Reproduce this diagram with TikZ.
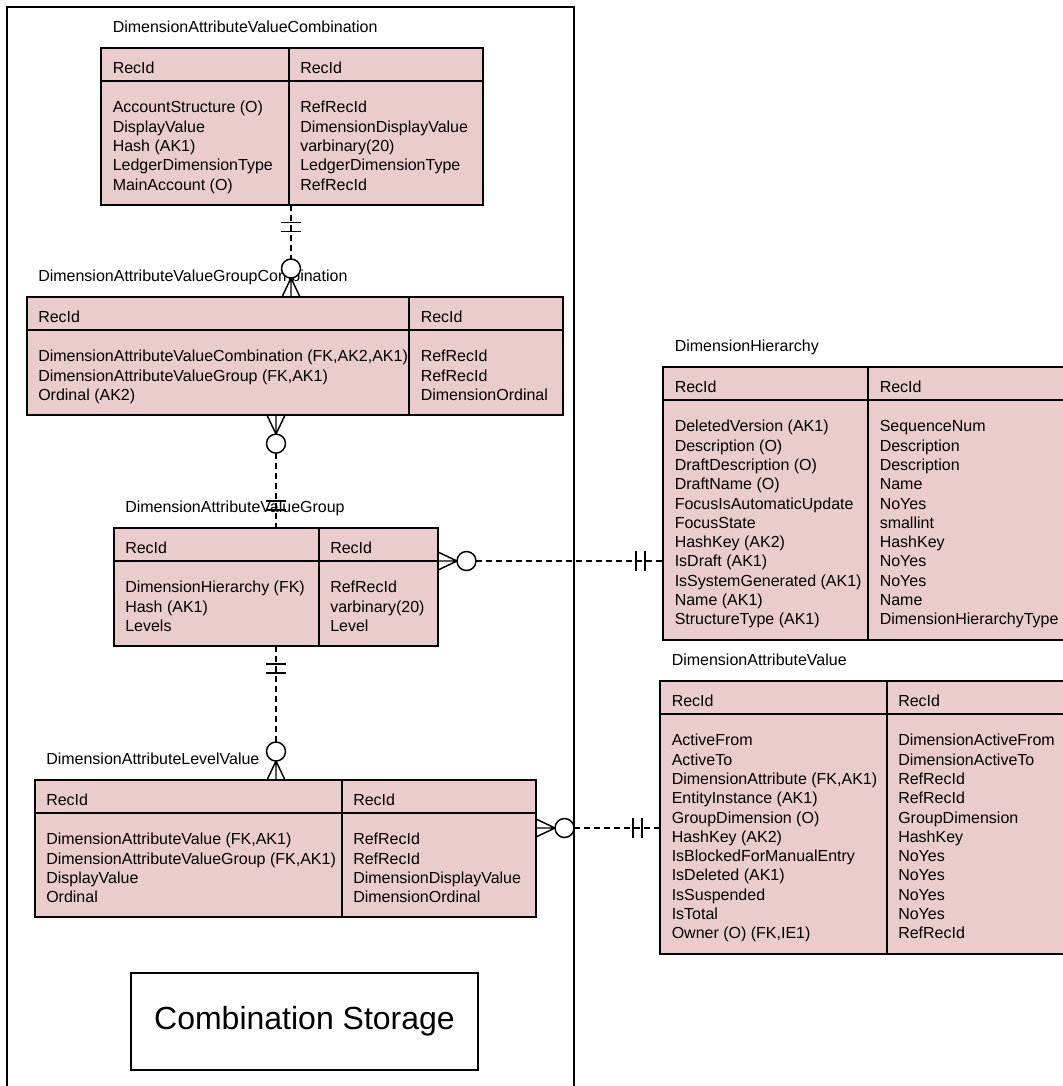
\documentclass[tikz,border=0pt]{standalone}
\usepackage{fontspec}
\setmainfont{Liberation Sans}
\usetikzlibrary{fit}
\definecolor{entfill}{RGB}{235,204,204}
\tikzset{
  entbox/.style={draw=black, line width=1.5pt, fill=entfill, inner sep=0pt, outer sep=0pt},
  sepline/.style={line width=1.5pt},
  txt/.style={anchor=base west, inner sep=0pt, font=\fontsize{12pt}{14pt}\selectfont},
  rel/.style={line width=1.1pt, dash pattern=on 4.5pt off 3pt},
  relsolid/.style={line width=1.1pt, solid},
  framestyle/.style={line width=1.5pt},
  onebars/.pic={\draw[relsolid] (-10,18) -- (10,18) (-10,27) -- (10,27);},
  manyfoot/.pic={\draw[relsolid] (-9,0) -- (0,19) -- (9,0) (0,0) -- (0,19);
                 \draw[relsolid, fill=white] (0,28.5) circle[radius=9.5];}
}
\newcommand{\erent}[9]{%
  \pgfmathsetmacro{\erbot}{#6+59+(#7-1)*19.3+20.5}%
  \node[entbox, fit={(#3,#6) (#4,\erbot)}] (#1) {};%
  \draw[sepline] (#3,#6+33) -- (#4,#6+33);%
  \draw[sepline] (#5,#6) -- (#5,\erbot);%
  \node[txt] (#1-lab) at (#3+11.5,#6-15.2) {#2};%
  \node[txt] (#1-hk) at (#3+11.5,#6+25.8) {RecId};%
  \node[txt] (#1-ht) at (#5+11.5,#6+25.8) {RecId};%
  \foreach \t [count=\i] in {#8} {\node[txt] (#1-l\i) at (#3+11.5,#6+64.8+\i*19.3-19.3) {\t};}%
  \foreach \t [count=\i] in {#9} {\node[txt] (#1-r\i) at (#5+11.5,#6+64.8+\i*19.3-19.3) {\t};}%
}
\begin{document}
\begin{tikzpicture}[x=0.75pt,y=-0.75pt]
\useasboundingbox (0,0) rectangle (1063,1086);
\clip (0,0) rectangle (1063,1086);
\fill[white] (0,0) rectangle (1063,1086);

% outer frame
\draw[framestyle] (7,1095) -- (7,7) -- (574,7) -- (574,1095);

\erent{davc}{DimensionAttributeValueCombination}{101}{483}{288.5}{48}{5}%
  {AccountStructure (O),DisplayValue,Hash (AK1),LedgerDimensionType,MainAccount (O)}%
  {RefRecId,DimensionDisplayValue,varbinary(20),LedgerDimensionType,RefRecId}

\erent{davgc}{DimensionAttributeValueGroupCombination}{26.5}{563}{409}{297}{3}%
  {{DimensionAttributeValueCombination (FK,AK2,AK1)},{DimensionAttributeValueGroup (FK,AK1)},Ordinal (AK2)}%
  {RefRecId,RefRecId,DimensionOrdinal}

\erent{davg}{DimensionAttributeValueGroup}{113.5}{438}{318.5}{528}{3}%
  {DimensionHierarchy (FK),Hash (AK1),Levels}%
  {RefRecId,varbinary(20),Level}

\erent{davlv}{DimensionAttributeLevelValue}{34.5}{536}{341.5}{780}{4}%
  {{DimensionAttributeValue (FK,AK1)},{DimensionAttributeValueGroup (FK,AK1)},DisplayValue,Ordinal}%
  {RefRecId,RefRecId,DimensionDisplayValue,DimensionOrdinal}

\erent{dh}{DimensionHierarchy}{663}{1075}{868}{367}{11}%
  {DeletedVersion (AK1),Description (O),DraftDescription (O),DraftName (O),FocusIsAutomaticUpdate,FocusState,HashKey (AK2),IsDraft (AK1),IsSystemGenerated (AK1),Name (AK1),StructureType (AK1)}%
  {SequenceNum,Description,Description,Name,NoYes,smallint,HashKey,NoYes,NoYes,Name,DimensionHierarchyType}

\erent{dav}{DimensionAttributeValue}{660}{1075}{886.5}{681}{11}%
  {ActiveFrom,ActiveTo,{DimensionAttribute (FK,AK1)},EntityInstance (AK1),GroupDimension (O),HashKey (AK2),IsBlockedForManualEntry,IsDeleted (AK1),IsSuspended,IsTotal,{Owner (O) (FK,IE1)}}%
  {DimensionActiveFrom,DimensionActiveTo,RefRecId,RefRecId,GroupDimension,HashKey,NoYes,NoYes,NoYes,NoYes,RefRecId}

% helper coordinates for connector lines
\coordinate (x1) at (291,0);
\coordinate (x2) at (276,0);
\coordinate (y4) at (0,561);
\coordinate (y5) at (0,828);

% DAVC (one) -- DAVGC (many)
\draw[rel, shorten >=28.5pt] (davc.south -| x1) -- (davgc.north -| x1);
\pic at (davc.south -| x1) {onebars};
\pic[rotate=180] at (davgc.north -| x1) {manyfoot};

% DAVGC (many) -- DAVG (one)
\draw[rel, shorten <=28.5pt] (davgc.south -| x2) -- (davg.north -| x2);
\pic at (davgc.south -| x2) {manyfoot};
\pic[rotate=180] at (davg.north -| x2) {onebars};

% DAVG (one) -- DAVLV (many)
\draw[rel, shorten >=28.5pt] (davg.south -| x2) -- (davlv.north -| x2);
\pic at (davg.south -| x2) {onebars};
\pic[rotate=180] at (davlv.north -| x2) {manyfoot};

% DAVG (many) -- DH (one)
\draw[rel, shorten <=28.5pt] (davg.east |- y4) -- (dh.west |- y4);
\pic[rotate=90] at (davg.east |- y4) {manyfoot};
\pic[rotate=-90] at (dh.west |- y4) {onebars};

% DAVLV (many) -- DAV (one)
\draw[rel, shorten <=28.5pt] (davlv.east |- y5) -- (dav.west |- y5);
\pic[rotate=90] at (davlv.east |- y5) {manyfoot};
\pic[rotate=-90] at (dav.west |- y5) {onebars};

% Combination Storage box
\node[draw, line width=1.1pt, inner sep=0pt, fit={(131,973) (478,1070)}] (cs) {};
\node[font=\fontsize{24pt}{27pt}\selectfont, inner sep=0pt] (cstext) at (cs.center) {Combination Storage};
\end{tikzpicture}
\end{document}
